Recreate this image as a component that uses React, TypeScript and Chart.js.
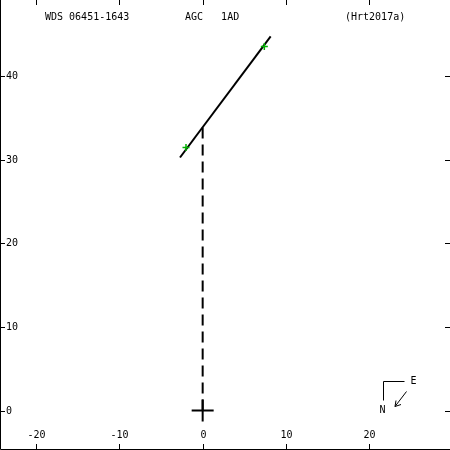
import React, { useEffect, useRef } from "react";
import { Chart, registerables } from "chart.js";

Chart.register(...registerables);

const xTicks = [-20, -10, 0, 10, 20];
const yTicks = [0, 10, 20, 30, 40];
const xRange = [-24.32, 29.68];
const yRange = [-4.73, 49.16];

const orbitX = [-2.72, 8.16];
const orbitY = [30.3, 44.8];
const obsX = [-2.0, 7.4];
const obsY = [31.5, 43.6];
const nodeX = [0, 0];
const nodeY = [0, 33.9];
const primaryX = [0];
const primaryY = [0];

const titleLeft = "WDS 06451-1643";
const titleMid = "AGC   1AD";
const titleRight = "(Hrt2017a)";

const FONT = '10px "DejaVu Sans Mono", "Liberation Mono", monospace';

const overlay = {
  id: "overlay",
  afterDraw(chart: any) {
    const ctx = chart.ctx as CanvasRenderingContext2D;
    const { left, right, top, bottom } = chart.chartArea;
    const xs = chart.scales.x;
    const ys = chart.scales.y;
    ctx.save();
    ctx.strokeStyle = "#000";
    ctx.fillStyle = "#000";
    ctx.lineWidth = 1;
    // frame (left, bottom)
    ctx.beginPath();
    ctx.moveTo(left + 0.5, top);
    ctx.lineTo(left + 0.5, bottom - 0.5);
    ctx.lineTo(right, bottom - 0.5);
    ctx.stroke();
    ctx.font = FONT;
    // x ticks
    ctx.textAlign = "center";
    ctx.textBaseline = "middle";
    xTicks.forEach((v) => {
      const px = Math.round(xs.getPixelForValue(v)) + 0.5;
      ctx.beginPath();
      ctx.moveTo(px, bottom);
      ctx.lineTo(px, bottom - 6);
      ctx.moveTo(px, top);
      ctx.lineTo(px, top + 5);
      ctx.stroke();
      ctx.fillText(String(v), px, bottom - 15);
    });
    // y ticks
    ctx.textAlign = "left";
    yTicks.forEach((v) => {
      const py = Math.round(ys.getPixelForValue(v)) + 0.5;
      ctx.beginPath();
      ctx.moveTo(left, py);
      ctx.lineTo(left + 5, py);
      ctx.moveTo(right, py);
      ctx.lineTo(right - 5, py);
      ctx.stroke();
      ctx.fillText(String(v), left + 6, py);
    });
    // title
    ctx.fillText(titleLeft, left + 45, top + 17);
    ctx.fillText(titleMid, left + 185, top + 17);
    ctx.fillText(titleRight, left + 345, top + 17);
    // compass
    const cx = right - 66.5;
    const cy = bottom - 68.5;
    ctx.beginPath();
    ctx.moveTo(cx + 21, cy);
    ctx.lineTo(cx, cy);
    ctx.lineTo(cx, cy + 19);
    ctx.stroke();
    ctx.fillText("E", cx + 27, cy);
    ctx.fillText("N", cx - 4, cy + 29);
    const ax0 = cx + 23, ay0 = cy + 10, ax1 = cx + 11.5, ay1 = cy + 25;
    ctx.beginPath();
    ctx.moveTo(ax0, ay0);
    ctx.lineTo(ax1, ay1);
    ctx.moveTo(ax1, ay1);
    ctx.lineTo(ax1 + 1, ay1 - 6);
    ctx.moveTo(ax1, ay1);
    ctx.lineTo(ax1 + 6, ay1 - 2);
    ctx.stroke();
    ctx.restore();
  },
};

export default function App() {
  const ref = useRef<HTMLCanvasElement>(null);
  useEffect(() => {
    if (!ref.current) return;
    const pts = (xa: number[], ya: number[]) => xa.map((x, i) => ({ x, y: ya[i] }));
    const chart = new Chart(ref.current, {
      type: "scatter",
      data: {
        datasets: [
          {
            data: pts(obsX, obsY),
            pointStyle: "cross",
            pointRadius: 3.5,
            borderColor: "#00b000",
            borderWidth: 1.5,
            order: 1,
          } as any,
          {
            data: pts(primaryX, primaryY),
            pointStyle: "cross",
            pointRadius: 11,
            borderColor: "#000",
            borderWidth: 2,
            order: 2,
          },
          {
            data: pts(orbitX, orbitY),
            showLine: true,
            borderColor: "#000",
            borderWidth: 2,
            pointRadius: 0,
            order: 3,
          },
          {
            data: pts(nodeX, nodeY),
            showLine: true,
            borderColor: "#000",
            borderWidth: 2,
            borderDash: [11, 6],
            pointRadius: 0,
            order: 4,
          },
        ],
      },
      options: {
        animation: false,
        responsive: false,
        layout: { padding: 0, autoPadding: false },
        plugins: { legend: { display: false }, tooltip: { enabled: false } },
        scales: {
          x: { type: "linear", display: false, min: xRange[0], max: xRange[1] },
          y: { type: "linear", display: false, min: yRange[0], max: yRange[1] },
        },
      },
      plugins: [overlay],
    });
    return () => chart.destroy();
  }, []);
  return (
    <div style={{ position: "fixed", left: 0, top: 0, width: 450, height: 450, background: "#fff" }}>
      <canvas ref={ref} width={450} height={450} />
    </div>
  );
}
